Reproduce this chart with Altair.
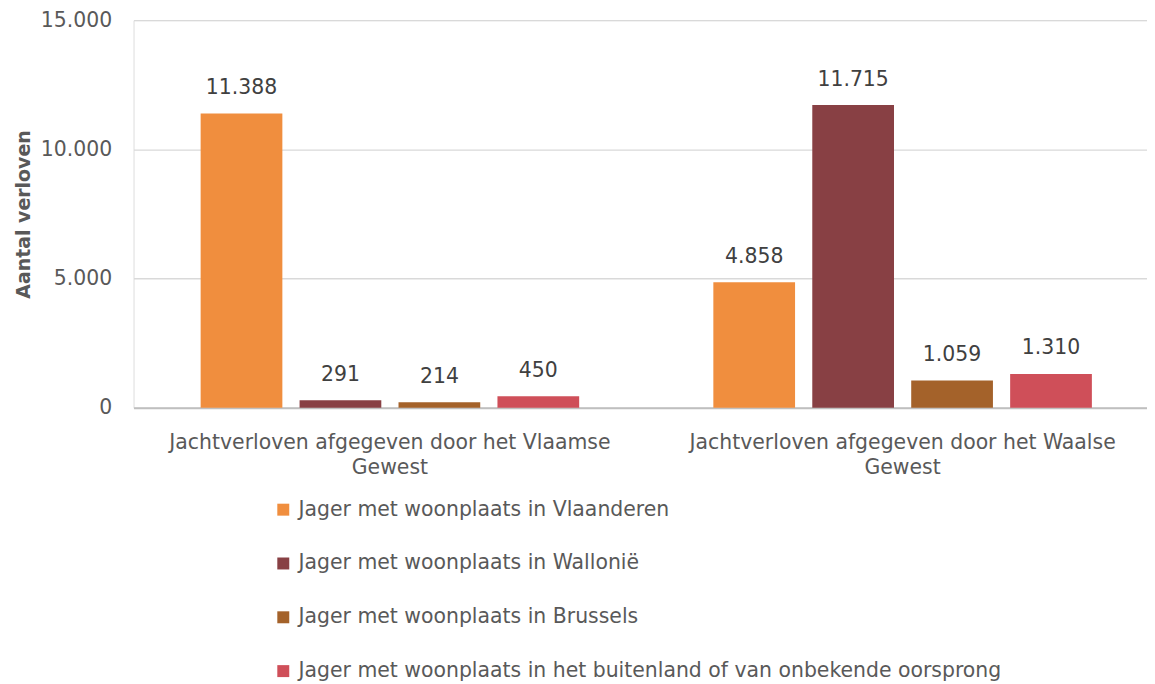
import altair as alt
import pandas as pd

categories = [
    "Jachtverloven afgegeven door het Vlaamse Gewest",
    "Jachtverloven afgegeven door het Waalse Gewest",
]
series = [
    "Jager met woonplaats in Vlaanderen",
    "Jager met woonplaats in Wallonië",
    "Jager met woonplaats in Brussels",
    "Jager met woonplaats in het buitenland of van onbekende oorsprong",
]
values_vlaams = [11388, 291, 214, 450]
values_waals = [4858, 11715, 1059, 1310]
colors = ["#F08E3E", "#884044", "#A4622A", "#CF4F59"]
y_ticks = [0, 5000, 10000, 15000]

rows = []
for cat, vals in zip(categories, [values_vlaams, values_waals]):
    for s, v in zip(series, vals):
        rows.append({"categorie": cat, "reeks": s, "waarde": v})
df = pd.DataFrame(rows)

FONT = "DejaVu Sans"
FS = 20.5

x_enc = alt.X(
    "categorie:N",
    sort=categories,
    scale=alt.Scale(range=[0, 1029], paddingInner=0, paddingOuter=0),
    axis=alt.Axis(
        title=None,
        labelAngle=0,
        labelFont=FONT,
        labelFontSize=FS,
        labelColor="#595959",
        labelPadding=25,
        labelLineHeight=25,
        labelLimit=700,
        labelExpr="[slice(datum.label, 0, lastindexof(datum.label, ' ')), slice(datum.label, lastindexof(datum.label, ' ') + 1)]",
        ticks=False,
        domainColor="#BFBFBF",
        domainWidth=2,
        labelBaseline="top",
    ),
)
xoff_enc = alt.XOffset(
    "reeks:N",
    sort=series,
    scale=alt.Scale(paddingInner=0.174, paddingOuter=0.678),
)
y_enc = alt.Y(
    "waarde:Q",
    scale=alt.Scale(domain=[0, 15000], nice=False),
    axis=alt.Axis(
        title="Aantal verloven",
        titleFont=FONT,
        titleFontSize=19,
        titleFontWeight="bold",
        titleColor="#595959",
        titleX=-104,
        titleY=194.5,
        titleAngle=-90,
        titleBaseline="alphabetic",
        titleAlign="center",
        values=y_ticks,
        labelFont=FONT,
        labelFontSize=FS,
        labelColor="#595959",
        labelPadding=22,
        labelExpr="replace(format(datum.value, ','), ',', '.')",
        ticks=False,
        domain=False,
        gridColor="#D9D9D9",
        gridWidth=1.3,
    ),
)

bars = alt.Chart(df).mark_bar().encode(
    x=x_enc,
    xOffset=xoff_enc,
    y=y_enc,
    color=alt.Color(
        "reeks:N",
        sort=series,
        scale=alt.Scale(domain=series, range=colors),
        legend=alt.Legend(
            title=None,
            orient="none",
            legendX=140,
            legendY=481,
            direction="vertical",
            symbolType="square",
            symbolSize=144,
            symbolStrokeWidth=0,
            labelFont=FONT,
            labelFontSize=FS,
            labelColor="#595959",
            labelOffset=5,
            rowPadding=33,
            labelLimit=1000,
        ),
    ),
)

labels = alt.Chart(df).transform_calculate(
    lab="replace(format(datum.waarde, ','), ',', '.')"
).mark_text(
    font=FONT, fontSize=FS, color="#404040", baseline="alphabetic", dy=-19.5
).encode(
    x=alt.X("categorie:N", sort=categories),
    xOffset=alt.XOffset("reeks:N", sort=series),
    y=alt.Y("waarde:Q"),
    text="lab:N",
)

chart = (
    alt.layer(bars, labels)
    .properties(
        width=1017,
        height=389,
        autosize=alt.AutoSizeParams(type="none"),
        padding={"left": 126, "top": 11, "right": 0, "bottom": 275},
    )
    .configure_view(stroke=None)
    .configure(background="white")
)

chart.save("out.html", embed_options={"renderer": "svg", "actions": False})
